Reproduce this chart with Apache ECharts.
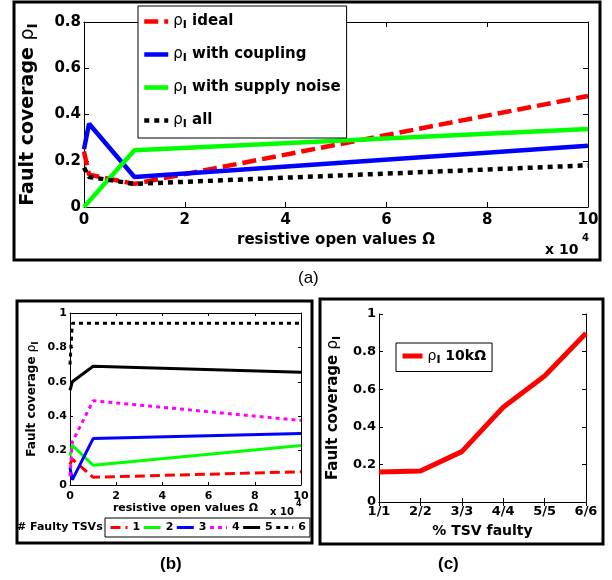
<!DOCTYPE html>
<html>
<head>
<meta charset="utf-8">
<script src="https://cdn.jsdelivr.net/npm/echarts@6/dist/echarts.min.js"></script>
<style>html,body{margin:0;padding:0;background:#fff}#main{width:612px;height:580px}</style>
</head>
<body>
<div id="main"></div>
<script>
// resistive open values (x 10^4 ohm)
var resistX = [0, 0.1, 1, 10];

// (a) fault coverage rho_I
var idealA = [0.24, 0.14, 0.10, 0.48];
var couplingA = [0.25, 0.36, 0.13, 0.265];
var noiseA = [0, 0.025, 0.245, 0.337];
var allA = [0.17, 0.13, 0.10, 0.18];

// (b) # faulty TSVs
var tsv1 = [0.12, 0.15, 0.045, 0.077];
var tsv2 = [0.17, 0.23, 0.115, 0.23];
var tsv3 = [0.10, 0.03, 0.27, 0.30];
var tsv4 = [0.05, 0.25, 0.49, 0.375];
var tsv5 = [0.55, 0.60, 0.69, 0.655];
var tsv6 = [0.70, 0.94, 0.94, 0.94];

// (c) rho_I at 10kOhm
var tsvCats = ['1/1', '2/2', '3/3', '4/4', '5/5', '6/6'];
var rho10k = [0.16, 0.165, 0.268, 0.504, 0.67, 0.897];

var FONT = 'DejaVu Sans';

function pairs(xs, ys) {
    return xs.map(function(x, i) { return [x, ys[i]]; });
}

function rhoRich(size) {
    return {
        p: {fontFamily: FONT, fontWeight: 'normal', fontSize: size, color: '#000'},
        i: {fontFamily: FONT, fontWeight: 'bold', fontSize: Math.round(size * 0.75), color: '#000', padding: [Math.round(size * 0.55), 0, 0, 0]},
        t: {fontFamily: FONT, fontWeight: 'bold', fontSize: size, color: '#000'}
    };
}

function line(name, xi, data, color, width, dash) {
    return {
        name: name,
        type: 'line',
        xAxisIndex: xi,
        yAxisIndex: xi,
        data: data,
        symbol: 'none',
        animation: false,
        lineStyle: {color: color, width: width, type: dash || 'solid', cap: 'butt'},
        itemStyle: {color: color}
    };
}

// bottom / left axes carry labels, top / right only ticks (matlab box)
function valX(grid, pos, show, size, tickLen) {
    return {
        type: 'value', gridIndex: grid, position: pos, min: 0, max: 10, interval: 2,
        axisLine: {show: true, onZero: false, lineStyle: {color: '#000', width: 1}},
        axisTick: {show: true, inside: true, length: tickLen, lineStyle: {color: '#000'}},
        axisLabel: {show: show, color: '#000', fontFamily: FONT, fontWeight: 'bold', fontSize: size, margin: 6},
        splitLine: {show: false}
    };
}
function valY(grid, pos, show, max, interval, size, tickLen) {
    return {
        type: 'value', gridIndex: grid, position: pos, min: 0, max: max, interval: interval,
        axisLine: {show: true, onZero: false, lineStyle: {color: '#000', width: 1}},
        axisTick: {show: true, inside: true, length: tickLen, lineStyle: {color: '#000'}},
        axisLabel: {show: show, color: '#000', fontFamily: FONT, fontWeight: 'bold', fontSize: size, margin: 3,
            formatter: function(v) { return String(Math.round(v * 10) / 10); }},
        splitLine: {show: false}
    };
}

var xAxes = [
    valX(0, 'bottom', true, 15, 5), valX(0, 'top', false, 15, 5),
    valX(1, 'bottom', true, 11, 3), valX(1, 'top', false, 11, 3),
    {
        type: 'category', gridIndex: 2, position: 'bottom', data: tsvCats, boundaryGap: false,
        axisLine: {show: true, lineStyle: {color: '#000'}},
        axisTick: {show: true, inside: true, length: 4, lineStyle: {color: '#000'}},
        axisLabel: {color: '#000', fontFamily: FONT, fontWeight: 'bold', fontSize: 13, margin: 3},
        name: '% TSV faulty', nameLocation: 'middle', nameGap: 22,
        nameTextStyle: {color: '#000', fontFamily: FONT, fontWeight: 'bold', fontSize: 14}
    },
    {
        type: 'category', gridIndex: 2, position: 'top', data: tsvCats, boundaryGap: false,
        axisLine: {show: true, lineStyle: {color: '#000'}},
        axisTick: {show: true, inside: true, length: 4, lineStyle: {color: '#000'}},
        axisLabel: {show: false}
    }
];
xAxes[0].name = 'resistive open values Ω';
xAxes[0].nameLocation = 'middle';
xAxes[0].nameGap = 26;
xAxes[0].nameTextStyle = {color: '#000', fontFamily: FONT, fontWeight: 'bold', fontSize: 15};
xAxes[2].name = 'resistive open values Ω';
xAxes[2].nameLocation = 'middle';
xAxes[2].nameGap = 18;
xAxes[2].nameTextStyle = {color: '#000', fontFamily: FONT, fontWeight: 'bold', fontSize: 11};

var yAxes = [
    valY(0, 'left', true, 0.8, 0.2, 15, 5), valY(0, 'right', false, 0.8, 0.2, 15, 5),
    valY(1, 'left', true, 1, 0.2, 11, 3), valY(1, 'right', false, 1, 0.2, 11, 3),
    valY(2, 'left', true, 1, 0.2, 13, 4), valY(2, 'right', false, 1, 0.2, 13, 4)
];
var yNames = [[19, 44], [12, 30], [15, 36]];
[0, 2, 4].forEach(function(k, j) {
    yAxes[k].name = '{t|Fault coverage }{p|ρ}{i|I}';
    yAxes[k].nameLocation = 'middle';
    yAxes[k].nameRotate = 90;
    yAxes[k].nameGap = yNames[j][1];
    yAxes[k].nameTextStyle = {fontSize: yNames[j][0], rich: rhoRich(yNames[j][0])};
});

var series = [
    line('ideal', 0, pairs(resistX, idealA), '#ff0000', 4.5, [14, 6]),
    line('with coupling', 0, pairs(resistX, couplingA), '#0000ff', 4.5),
    line('with supply noise', 0, pairs(resistX, noiseA), '#00ff00', 4.5),
    line('all', 0, pairs(resistX, allA), '#000000', 4.5, [5, 5]),
    line('1', 2, pairs(resistX, tsv1), '#ff0000', 3, [10, 5]),
    line('2', 2, pairs(resistX, tsv2), '#00ff00', 3),
    line('3', 2, pairs(resistX, tsv3), '#0000ff', 3),
    line('4', 2, pairs(resistX, tsv4), '#ff00ff', 3, [4, 4]),
    line('5', 2, pairs(resistX, tsv5), '#000000', 3),
    line('6', 2, pairs(resistX, tsv6), '#000000', 3, [4, 4]),
    line('10k', 4, rho10k, '#ff0000', 5)
];

// legend icons: line sample only, hide the marker
var legendBase = {
    borderColor: '#000', borderWidth: 1, borderRadius: 0, backgroundColor: '#fff',
    inactiveColor: '#000', selectedMode: false,
    itemStyle: {opacity: 0, borderWidth: 0}
};

var option = {
    animation: false,
    backgroundColor: '#fff',
    textStyle: {fontFamily: FONT},
    grid: [
        {left: 84, top: 22, width: 504, height: 185},
        {left: 70, top: 313, width: 231, height: 172},
        {left: 379, top: 314, width: 207, height: 188}
    ],
    xAxis: xAxes,
    yAxis: yAxes,
    legend: [
        Object.assign({}, legendBase, {
            left: 138, top: 6, orient: 'vertical', padding: [8, 6, 8, 4],
            itemWidth: 24, itemHeight: 12, itemGap: 16,
            lineStyle: {width: 4.5},
            data: ['ideal', 'with coupling', 'with supply noise', 'all'],
            formatter: function(n) { return '{p|ρ}{i|I}{t| ' + n + '}'; },
            textStyle: {fontSize: 15, rich: rhoRich(15)}
        }),
        Object.assign({}, legendBase, {
            left: 105, top: 518, orient: 'horizontal', padding: [4, 4, 4, 4],
            itemWidth: 17, itemHeight: 10, itemGap: 2,
            lineStyle: {width: 3},
            data: ['1', '2', '3', '4', '5', '6'],
            textStyle: {fontSize: 11, fontWeight: 'bold', color: '#000', fontFamily: FONT}
        }),
        Object.assign({}, legendBase, {
            left: 396, top: 343, orient: 'vertical', padding: [6, 6, 6, 4],
            itemWidth: 20, itemHeight: 10,
            lineStyle: {width: 5},
            data: ['10k'],
            formatter: function() { return '{p|ρ}{i|I}{t| 10kΩ}'; },
            textStyle: {fontSize: 14, rich: rhoRich(14)}
        })
    ],
    graphic: [
        {type: 'rect', shape: {x: 14, y: 2, width: 586, height: 258}, style: {fill: 'none', stroke: '#000', lineWidth: 3}, silent: true},
        {type: 'rect', shape: {x: 17, y: 301, width: 295, height: 242}, style: {fill: 'none', stroke: '#000', lineWidth: 3}, silent: true},
        {type: 'rect', shape: {x: 320, y: 299, width: 283, height: 245}, style: {fill: 'none', stroke: '#000', lineWidth: 3}, silent: true},
        {type: 'text', left: 545, top: 243, style: {text: 'x 10', fill: '#000', font: 'bold 14px "DejaVu Sans"'}},
        {type: 'text', left: 582, top: 233, style: {text: '4', fill: '#000', font: 'bold 10px "DejaVu Sans"'}},
        {type: 'text', left: 270, top: 507, style: {text: 'x 10', fill: '#000', font: 'bold 10px "DejaVu Sans"'}},
        {type: 'text', left: 296, top: 500, style: {text: '4', fill: '#000', font: 'bold 8px "DejaVu Sans"'}},
        {type: 'text', left: 17, top: 522, style: {text: '# Faulty TSVs', fill: '#000', font: 'bold 11px "DejaVu Sans"'}},
        {type: 'text', left: 298, top: 270, style: {text: '(a)', fill: '#000', font: '17px "Liberation Sans"'}},
        {type: 'text', left: 160, top: 556, style: {text: '(b)', fill: '#000', font: 'bold 17px "Liberation Sans"'}},
        {type: 'text', left: 438, top: 556, style: {text: '(c)', fill: '#000', font: 'bold 17px "Liberation Sans"'}}
    ],
    series: series
};

var chart = echarts.init(document.getElementById('main'), null, {renderer: 'canvas'});
chart.setOption(option);
</script>
</body>
</html>
